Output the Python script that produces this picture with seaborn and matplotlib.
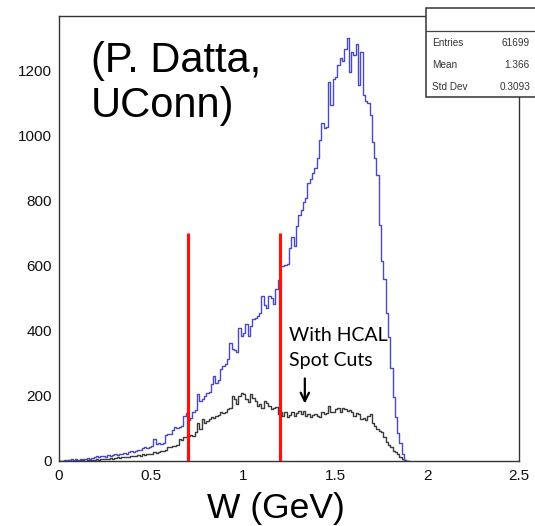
import numpy as np
import pandas as pd
import matplotlib
matplotlib.use("Agg")
import matplotlib.pyplot as plt
from matplotlib.ticker import MultipleLocator
from matplotlib.patches import Rectangle
from matplotlib.lines import Line2D
import seaborn as sns

# ---------------- data ----------------
bin_width = 0.0125          # GeV, histogram bins start at 0
counts_all = [
    0, 0, 2, 4, 3, 5, 3, 6, 4, 5, 7, 5, 8, 6, 9, 11,
    14, 12, 15, 16, 13, 17, 16, 19, 21, 18, 22, 20, 24, 23, 27, 30,
    29, 32, 35, 33, 40, 43, 41, 44, 46, 67, 52, 54, 51, 56,
    80, 84, 82, 96, 103, 100, 104, 107, 139, 146,
    125, 131, 150, 156, 205, 185, 190, 200, 210, 212, 236, 262, 240, 248,
    282, 292, 297, 312, 362, 345, 340, 334, 410, 385,
    394, 422, 383, 414, 435, 440, 446, 455, 506, 480,
    470, 506, 500, 482, 527, 557,
    598, 598, 602, 606, 654, 688, 660, 721, 755, 770,
    797, 807, 854, 865, 884, 899, 930, 986, 1037, 1022,
    1025, 1165, 1094, 1175, 1180, 1216, 1237, 1228, 1267, 1298,
    1196, 1257, 1247, 1282, 1155, 1257, 1124, 1105, 1099, 1063,
    981, 930, 879, 726, 614, 560, 455, 380, 285, 197,
    136, 85, 54, 20, 4, 0,
]
counts_hcal = [
    0, 0, 1, 0, 2, 1, 0, 2, 1, 3, 2, 1, 3, 2, 4, 3,
    5, 4, 6, 5, 7, 6, 8, 6, 9, 11, 10, 12, 11, 13, 12, 14,
    16, 15, 17, 16, 21, 19, 22, 21, 23, 27, 26, 29, 32, 31,
    34, 42, 44, 47, 45, 49, 67, 66, 73, 75,
    78, 80, 78, 88, 118, 98, 129, 118, 124, 129, 134, 131, 139, 142,
    149, 146, 152, 159, 164, 200, 190, 175, 200, 210,
    205, 190, 180, 205, 195, 185, 170, 175, 164, 185,
    178, 170, 159, 164, 166, 144,
    149, 139, 149, 134, 141, 149, 139, 146, 154, 145,
    154, 139, 145, 134, 140, 144, 139, 136, 149, 144,
    147, 170, 149, 152, 159, 162, 149, 164, 160, 154,
    156, 149, 139, 146, 144, 129, 132, 126, 139, 144,
    118, 108, 98, 92, 88, 73, 57, 50, 42, 32,
    27, 21, 11, 6, 2, 0,
]
cut_positions = [0.7, 1.2]
cut_top = 700
arrow_x = 1.336
arrow_from = 262
arrow_to = 168
stats_labels = ["Entries", "Mean", "Std Dev"]
stats_values = ["61699", "1.366", "0.3093"]

n = len(counts_all)
edges = [i * bin_width for i in range(n + 1)]
centers = [(i + 0.5) * bin_width for i in range(n)]
df = pd.DataFrame({
    "W": centers + centers,
    "counts": counts_all + counts_hcal,
    "sel": ["all"] * n + ["hcal"] * n,
})

# ---------------- style ----------------
sns.set_style("white")
plt.rcParams["font.family"] = ["Liberation Sans", "DejaVu Sans"]

W_PX, H_PX = 535, 526
fig = plt.figure(figsize=(W_PX / 100, H_PX / 100), dpi=100)
ax_l, ax_r, ax_t, ax_b = 59, 519, 16, 461
ax = fig.add_axes([ax_l / W_PX, 1 - ax_b / H_PX, (ax_r - ax_l) / W_PX, (ax_b - ax_t) / H_PX])

sns.histplot(data=df, x="W", weights="counts", hue="sel", bins=edges,
             element="step", fill=False, legend=False, ax=ax, linewidth=1.0,
             palette={"all": "#4a4ac4", "hcal": "#3c3c3c"})

ax.vlines(cut_positions, 0, cut_top, color="#ff1010", linewidth=2.3, zorder=5)

ax.annotate("", xy=(arrow_x, arrow_to), xytext=(arrow_x, arrow_from),
            arrowprops=dict(arrowstyle="->", color="black", lw=1.6,
                            mutation_scale=15))

ax.set_xlim(0, 2.5)
ax.set_ylim(0, 1367)
ax.xaxis.set_major_locator(MultipleLocator(0.5))
ax.xaxis.set_minor_locator(MultipleLocator(0.1))
ax.yaxis.set_major_locator(MultipleLocator(200))
ax.yaxis.set_minor_locator(MultipleLocator(50))
ax.xaxis.set_major_formatter(plt.FuncFormatter(lambda v, p: f"{v:g}"))
ax.tick_params(which="both", direction="in", top=False, right=False,
               color="#333333", width=1.0, labelsize=11, labelcolor="#111111")
ax.tick_params(which="major", length=9, pad=5)
ax.tick_params(axis="x", which="major", pad=6)
ax.tick_params(which="minor", length=4.5)
ax.set_xlabel("")
ax.set_ylabel("")
for s in ax.spines.values():
    s.set_color("#333333")
    s.set_linewidth(1.0)
    s.set_visible(True)

# axis title
fig.text(276 / W_PX, 1 - 518 / H_PX, "W (GeV)", ha="center", va="baseline",
         fontsize=25.5, color="black")

# annotation texts (va=baseline aligns the last line)
fig.text(91 / W_PX, 1 - 117 / H_PX, "(P. Datta,\nUConn)", ha="left", va="baseline",
         fontsize=30, linespacing=1.15, color="black")
fig.text(289 / W_PX, 1 - 366 / H_PX, "With HCAL\nSpot Cuts", ha="left", va="baseline",
         fontsize=14, linespacing=1.55, color="black", family=["Lato", "DejaVu Sans"])

# stats box
bx0, by0, bx1, by1 = 426, 8, 545, 97
fig.patches.append(Rectangle((bx0 / W_PX, 1 - by1 / H_PX), (bx1 - bx0) / W_PX,
                             (by1 - by0) / H_PX, transform=fig.transFigure,
                             facecolor="white", edgecolor="#333333", lw=1.1, zorder=10))
fig.lines.append(Line2D([bx0 / W_PX, 1], [1 - 31 / H_PX, 1 - 31 / H_PX],
                        transform=fig.transFigure, color="#444444", lw=0.9, zorder=11))
row_y = [43, 65.5, 87.5]
for lab, val, yy in zip(stats_labels, stats_values, row_y):
    fig.text(432 / W_PX, 1 - yy / H_PX, lab, ha="left", va="center",
             fontsize=7.2, color="#333333", zorder=12)
    fig.text(530 / W_PX, 1 - yy / H_PX, val, ha="right", va="center",
             fontsize=7.2, color="#333333", zorder=12)

fig.savefig("out.png", dpi=100)
